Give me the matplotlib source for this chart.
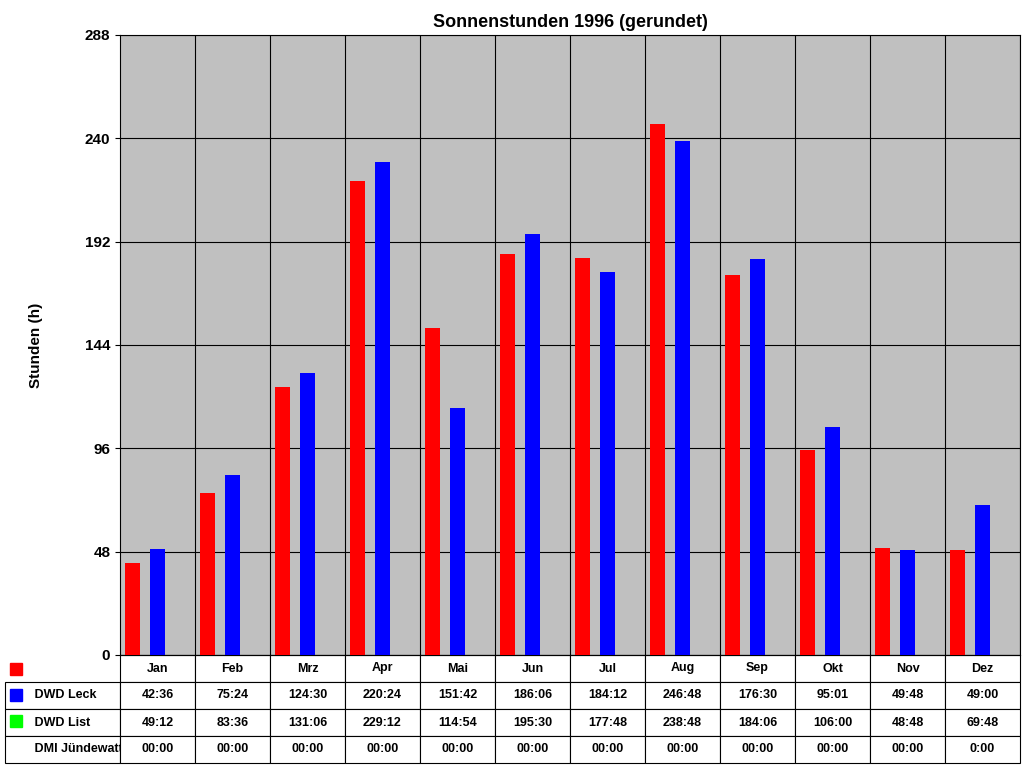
import matplotlib
matplotlib.use('Agg')
import matplotlib.pyplot as plt
from matplotlib.patches import Rectangle

plt.rcParams['font.family'] = 'Liberation Sans'
plt.rcParams['font.weight'] = 'bold'

months = ['Jan', 'Feb', 'Mrz', 'Apr', 'Mai', 'Jun', 'Jul', 'Aug', 'Sep', 'Okt', 'Nov', 'Dez']
leck = ['42:36', '75:24', '124:30', '220:24', '151:42', '186:06', '184:12', '246:48', '176:30', '95:01', '49:48', '49:00']
liste = ['49:12', '83:36', '131:06', '229:12', '114:54', '195:30', '177:48', '238:48', '184:06', '106:00', '48:48', '69:48']
dmi = ['00:00'] * 11 + ['0:00']
series_names = ['DWD Leck', 'DWD List', 'DMI Jündewatt']
colors = ['#ff0000', '#0000ff', '#00ff00']

def to_hours(s):
    h, m = s.split(':')
    return int(h) + int(m) / 60

fig = plt.figure(figsize=(10.24, 7.68), dpi=100)
ax = fig.add_axes([120/1024, 113/768, 900/1024, 620/768])
ax.set_facecolor('#c0c0c0')

x = range(len(months))
for k, (vals, c) in enumerate(zip([leck, liste, dmi], colors)):
    ax.bar([i + (k - 1) / 3 for i in x], [to_hours(v) for v in vals], width=0.19, color=c, zorder=3)

ax.set_xlim(-0.5, 11.5)
ax.set_ylim(0, 288)
ax.set_yticks(range(0, 289, 48))
ax.set_xticks([i + 0.5 for i in x])
ax.tick_params(axis='x', length=0, labelbottom=False)
ax.tick_params(axis='y', labelsize=11)
ax.grid(True, color='black', linewidth=0.8, zorder=1)
for s in ax.spines.values():
    s.set_linewidth(0.8)
ax.set_ylabel('Stunden (h)', fontsize=11, fontweight='bold', labelpad=30)
ax.set_title('Sonnenstunden 1996 (gerundet)', fontsize=13, fontweight='bold', pad=6)

# data table below the plot
rows = [[''] + months] + [[''] + r for r in (leck, liste, dmi)]
tab = ax.table(cellText=rows, cellLoc='center',
               bbox=[-115/900, -108/620, 1015/900, 108/620],
               colWidths=[115] + [75] * 12)
tab.auto_set_font_size(False)
tab.set_fontsize(9)
for (r, c), cell in tab.get_celld().items():
    cell.set_linewidth(0.8)
    cell.get_text().set_fontweight('bold')
    if r == 0 and c == 0:
        cell.set_visible(False)
for k, name in enumerate(series_names):
    cell = tab[k + 1, 0]
    cell.get_text().set_text('     ' + name)
    cell.get_text().set_ha('left')
    cell._loc = 'left'
    y0 = (-108 + 30 + 26 * (2 - k) + 8) / 620
    ax.add_patch(Rectangle((-110/900, y0 - 2/620), 12/900, 12/620, transform=ax.transAxes,
                           color=colors[k], clip_on=False, zorder=5))

fig.savefig('out.png', dpi=100)
